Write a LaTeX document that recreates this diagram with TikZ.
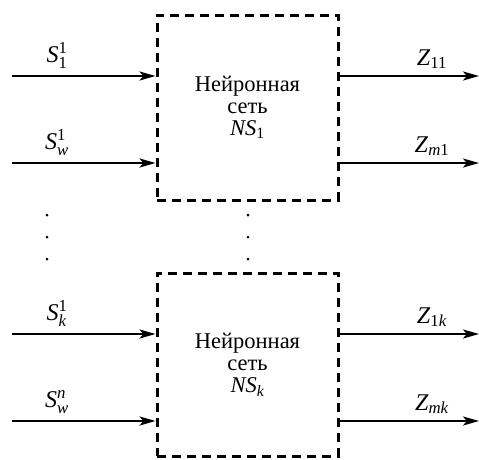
\documentclass[tikz,border=0pt]{standalone}
\usepackage{amsmath}
\usepackage{fontspec}
\IfFontExistsTF{LiberationSerif-Regular.ttf}
  {\setmainfont{LiberationSerif}[Extension=.ttf, UprightFont=*-Regular,
     ItalicFont=*-Italic, BoldFont=*-Bold, BoldItalicFont=*-BoldItalic]}
  {\setmainfont{Liberation Serif}}
\usetikzlibrary{arrows.meta}
\tikzset{
  netbox/.style={draw, line width=3pt, dash pattern=on 9pt off 6pt, minimum width=181pt, align=center, font=\fontsize{22.5}{22}\selectfont},
  sig/.style={line width=2.4pt, -{Stealth[length=16pt, width=9pt, inset=4pt]}},
  lab/.style={anchor=south, inner sep=0pt, font=\fontsize{24}{26}\selectfont},
  dot/.style={circle, fill, inner sep=0pt, minimum size=3pt}
}
\newcommand{\var}[1]{\text{\itshape #1\/}}
\begin{document}
\begin{tikzpicture}[x=1pt, y=-1pt]
\useasboundingbox (0,0) rectangle (479,459);
% the two network blocks
\node[netbox, minimum height=185pt] (net1) at (247.5,107.5)
  {Нейронная\\сеть\\$\var{NS}_{\text{1}}$};
\node[netbox, minimum height=183pt] (net2) at (247.5,364.5)
  {Нейронная\\сеть\\$\var{NS}_{\var{k}}$};
% free ends of the signal lines
\coordinate (a1) at (12,76);
\coordinate (a2) at (12,163);
\coordinate (a3) at (12,334);
\coordinate (a4) at (12,421);
\coordinate (b1) at (479,76);
\coordinate (b2) at (479,163);
\coordinate (b3) at (479,334);
\coordinate (b4) at (479,421);
% inputs
\draw[sig] (a1) -- (net1.west |- a1);
\draw[sig] (a2) -- (net1.west |- a2);
\draw[sig] (a3) -- (net2.west |- a3);
\draw[sig] (a4) -- (net2.west |- a4);
% outputs
\draw[sig] (net1.east |- b1) -- (b1);
\draw[sig] (net1.east |- b2) -- (b2);
\draw[sig] (net2.east |- b3) -- (b3);
\draw[sig] (net2.east |- b4) -- (b4);
% signal labels
\node[lab] (s1) at (57,69) {$\var{S}^{\text{1}}_{\text{1}}$};
\node[lab] (s2) at (57,156) {$\var{S}^{\text{1}}_{\var{w}}$};
\node[lab] (s3) at (57,327) {$\var{S}^{\text{1}}_{\var{k}}$};
\node[lab] (s4) at (57,414) {$\var{S}^{\var{n}}_{\var{w}}$};
\node[lab] (z1) at (432,69) {$\var{Z}_{\text{11}}$};
\node[lab] (z2) at (432,156) {$\var{Z}_{\var{m}\text{1}}$};
\node[lab] (z3) at (432,327) {$\var{Z}_{\text{1}\var{k}}$};
\node[lab] (z4) at (432,414) {$\var{Z}_{\var{mk}}$};
% vertical ellipsis between the blocks
\foreach \y [count=\i] in {215,237,259} {
  \node[dot] (l\i) at (47,\y) {};
  \node[dot] (m\i) at (248,\y) {};
}
\end{tikzpicture}
\end{document}
